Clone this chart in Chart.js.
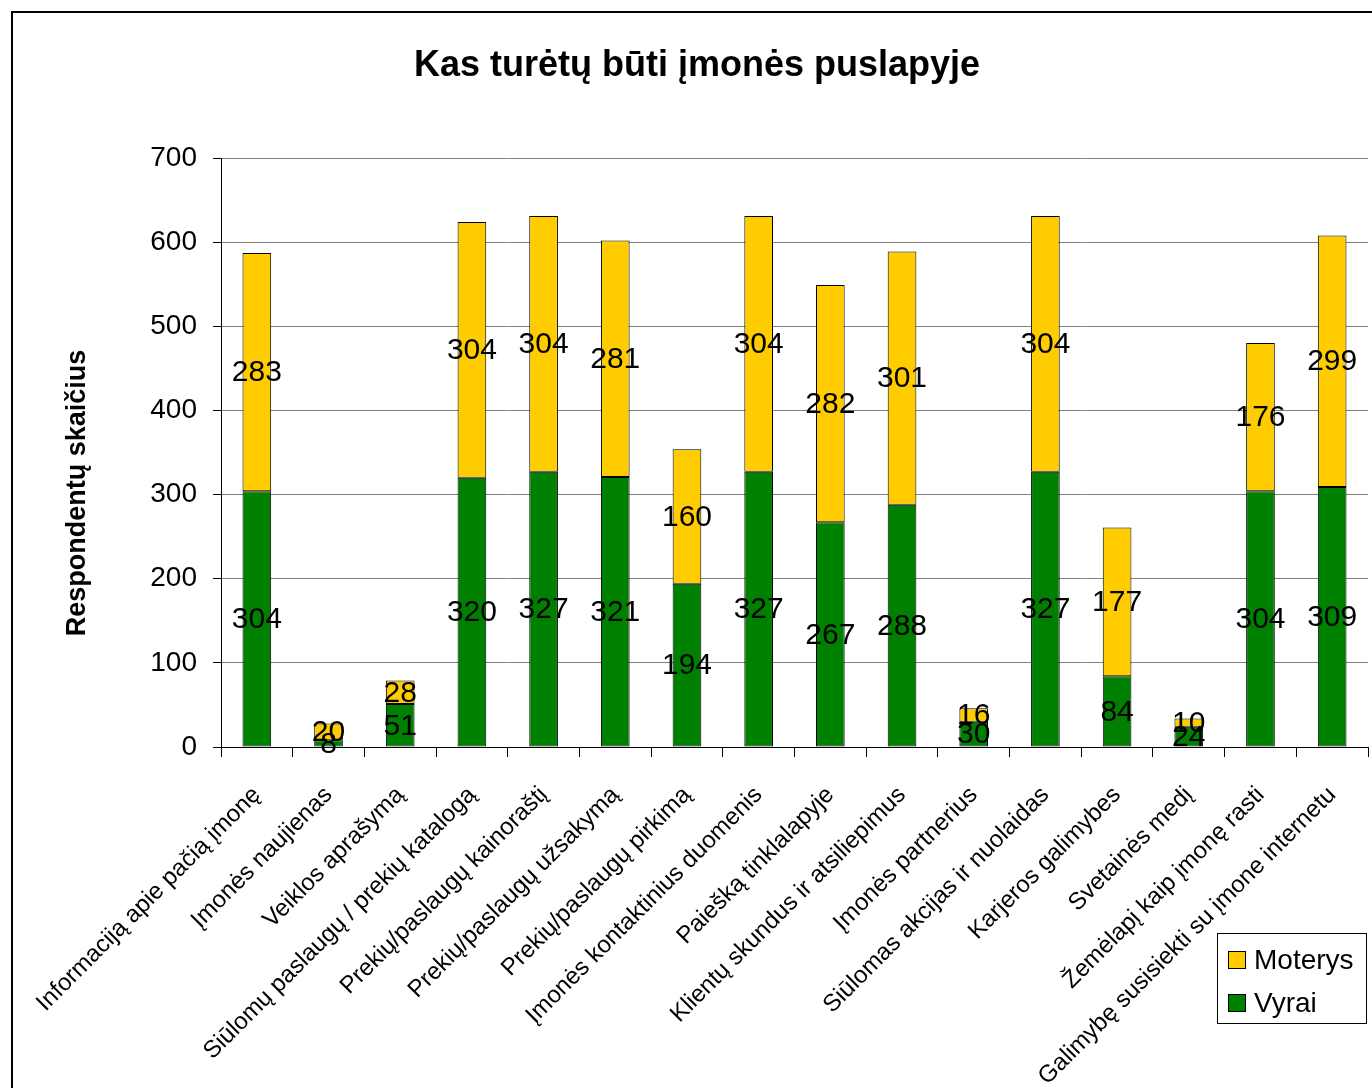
<!DOCTYPE html>
<html lang="lt">
<head>
<meta charset="utf-8">
<title>Kas turėtų būti įmonės puslapyje</title>
<script src="https://cdn.jsdelivr.net/npm/chart.js@4/dist/chart.umd.min.js"></script>
<style>
  html, body { margin: 0; padding: 0; background: #fff; }
  #wrap { width: 1372px; height: 1088px; position: relative; }
</style>
</head>
<body>
<div id="wrap"><canvas id="chart" width="1372" height="1088"></canvas></div>
<script>
const categories = [
  "Informaciją apie pačią įmonę",
  "Įmonės naujienas",
  "Veiklos aprašymą",
  "Siūlomų paslaugų / prekių katalogą",
  "Prekių/paslaugų kainoraštį",
  "Prekių/paslaugų užsakymą",
  "Prekių/paslaugų pirkimą",
  "Įmonės kontaktinius duomenis",
  "Paiešką tinklalapyje",
  "Klientų skundus ir atsiliepimus",
  "Įmonės partnerius",
  "Siūlomas akcijas ir nuolaidas",
  "Karjeros galimybes",
  "Svetainės medį",
  "Žemėlapį kaip įmonę rasti",
  "Galimybę susisiekti su įmone internetu"
]
const vyrai = [304, 8, 51, 320, 327, 321, 194, 327, 267, 288, 30, 327, 84, 24, 304, 309]
const moterys = [283, 20, 28, 304, 304, 281, 160, 304, 282, 301, 16, 304, 177, 10, 176, 299]
const yTicks = [0, 100, 200, 300, 400, 500, 600, 700]

const FONT = "'Liberation Sans', Arial, sans-serif"
const GREEN = "#008000"
const YELLOW = "#FFCC00"

// frame, title, y-axis title, segment values and legend box
const decorations = {
  id: "decorations",
  beforeDraw(chart) {
    const ctx = chart.ctx
    ctx.save()
    ctx.fillStyle = "#fff"
    ctx.fillRect(0, 0, chart.width, chart.height)
    ctx.restore()
  },
  afterDatasetsDraw(chart) {
    const ctx = chart.ctx
    ctx.save()
    ctx.font = "30px " + FONT
    ctx.fillStyle = "#000"
    ctx.textAlign = "center"
    ctx.textBaseline = "middle"
    chart.data.datasets.forEach((ds, i) => {
      chart.getDatasetMeta(i).data.forEach((bar, j) => {
        ctx.fillText(String(ds.data[j]), bar.x, (bar.y + bar.base) / 2 + 1)
      })
    })
    ctx.restore()
  },
  afterDraw(chart) {
    const ctx = chart.ctx
    ctx.save()
    // outer frame
    ctx.strokeStyle = "#000"
    ctx.lineWidth = 2
    ctx.strokeRect(12, 12, chart.width + 20, chart.height + 20)

    // title
    ctx.fillStyle = "#000"
    ctx.font = "bold 36px " + FONT
    ctx.textAlign = "center"
    ctx.textBaseline = "middle"
    ctx.fillText("Kas turėtų būti įmonės puslapyje", 697, 66)

    // y axis title
    ctx.save()
    ctx.translate(78, 493)
    ctx.rotate(-Math.PI / 2)
    ctx.font = "bold 27px " + FONT
    ctx.fillText("Respondentų skaičius", 0, 0)
    ctx.restore()

    // legend
    ctx.lineWidth = 1
    ctx.strokeStyle = "#000"
    ctx.fillStyle = "#fff"
    ctx.fillRect(1217.5, 933.5, 149, 90)
    ctx.strokeRect(1217.5, 933.5, 149, 90)
    const items = [["Moterys", YELLOW, 960], ["Vyrai", GREEN, 1003]]
    items.forEach(([label, color, y]) => {
      ctx.fillStyle = color
      ctx.fillRect(1228.5, y - 8.5, 17, 17)
      ctx.strokeRect(1228.5, y - 8.5, 17, 17)
      ctx.fillStyle = "#000"
      ctx.font = "28px " + FONT
      ctx.textAlign = "left"
      ctx.textBaseline = "middle"
      ctx.fillText(label, 1254, y + 1)
    })
    ctx.restore()
  }
}

new Chart(document.getElementById("chart"), {
  type: "bar",
  data: {
    labels: categories,
    datasets: [
      {
        label: "Vyrai",
        data: vyrai,
        backgroundColor: GREEN,
        borderColor: "#000",
        borderWidth: 1,
        borderSkipped: false,
        barPercentage: 0.4,
        categoryPercentage: 1.0
      },
      {
        label: "Moterys",
        data: moterys,
        backgroundColor: YELLOW,
        borderColor: "#000",
        borderWidth: 1,
        borderSkipped: false,
        barPercentage: 0.4,
        categoryPercentage: 1.0
      }
    ]
  },
  options: {
    responsive: false,
    animation: false,
    layout: { padding: { top: 158, left: 0, right: 4, bottom: 0 } },
    plugins: {
      legend: { display: false },
      title: { display: false },
      tooltip: { enabled: false }
    },
    scales: {
      x: {
        stacked: true,
        grid: {
          display: true,
          drawOnChartArea: false,
          color: "#000",
          tickLength: 10,
          offset: true
        },
        border: { color: "#000", width: 1 },
        ticks: {
          color: "#000",
          font: { family: FONT, size: 24 },
          minRotation: 45,
          maxRotation: 45,
          autoSkip: false,
          padding: 24
        },
        afterFit(scale) {
          scale.height = 1088 - 747
          scale.paddingLeft = 0
          scale.paddingRight = 0
        }
      },
      y: {
        stacked: true,
        min: 0,
        max: 700,
        afterBuildTicks(scale) { scale.ticks = yTicks.map(v => ({ value: v })) },
        grid: {
          color: "#808080",
          tickColor: "#000",
          tickLength: 8
        },
        border: { color: "#000", width: 1 },
        ticks: {
          color: "#000",
          font: { family: FONT, size: 28 },
          padding: 16
        },
        afterFit(scale) { scale.width = 221 }
      }
    }
  },
  plugins: [decorations]
})
</script>
</body>
</html>
